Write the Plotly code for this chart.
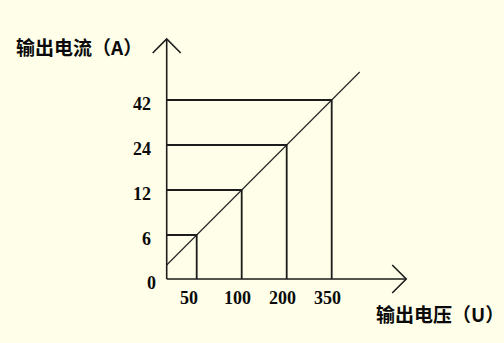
import plotly.graph_objects as go

# Output voltage / output current pairs shown on the schematic
voltage = [50, 100, 200, 350]
current = [6, 12, 24, 42]
x_title = "输出电压（U）"
y_title = "输出电流（A）"
origin_label = "0"

# Schematic layout (pixels): origin, first slot offset and slot spacing
W, H = 504, 343
OX, OY = 166.7, 279
X0, DX = 30, 45
Y0, DY = 44, 45
X_END, Y_END = 239.5, 240
ARROW = 14

INK = "#1c1c1c"
BG = "#fefee9"
NUM_FONT = dict(family="Liberation Serif, Times New Roman, serif", size=18, color="#0a0a0a", weight="bold")
CJK_FONT = dict(family="Noto Sans CJK SC, sans-serif", size=19, color="#0a0a0a", weight="bold")

xs = [X0 + DX * i for i in range(len(voltage))]
ys = [Y0 + DY * i for i in range(len(current))]

fig = go.Figure()

# Axes with open arrow heads
fig.add_trace(go.Scatter(
    x=[0, 0, None, -ARROW, 0, ARROW],
    y=[0, Y_END, None, Y_END - ARROW, Y_END, Y_END - ARROW],
    mode="lines", line=dict(color=INK, width=1.6), hoverinfo="skip"))
fig.add_trace(go.Scatter(
    x=[0, X_END, None, X_END - ARROW, X_END, X_END - ARROW],
    y=[0, 0, None, ARROW, 0, -ARROW],
    mode="lines", line=dict(color=INK, width=1.6), hoverinfo="skip"))

# Projection lines from each operating point to both axes
bx, by = [], []
for x, y in zip(xs, ys):
    bx += [0, x, x, None]
    by += [y, y, 0, None]
fig.add_trace(go.Scatter(x=bx, y=by, mode="lines",
                         line=dict(color=INK, width=1.8), hoverinfo="skip"))

# Characteristic line through the operating points, extended both ways
slope = (ys[-1] - ys[0]) / (xs[-1] - xs[0])
icpt = ys[0] - slope * xs[0]
x_hi = xs[-1] + 28
fig.add_trace(go.Scatter(x=[0] + xs + [x_hi],
                         y=[icpt] + ys + [icpt + slope * x_hi],
                         mode="lines", line=dict(color=INK, width=1.1),
                         hoverinfo="skip"))

ann = []
for v, x in zip(voltage, xs):
    ann.append(dict(x=x - (8 if v == voltage[0] else 4), y=-19, text=str(v),
                    showarrow=False, xanchor="center", yanchor="middle", font=NUM_FONT))
for c, y in zip(current, ys):
    ann.append(dict(x=-13.7, y=y - 4, text=str(c), showarrow=False,
                    xanchor="right", yanchor="middle", font=NUM_FONT))
ann.append(dict(x=-8.7, y=-3.5, text=origin_label, showarrow=False,
                xanchor="right", yanchor="middle", font=NUM_FONT))
ann.append(dict(x=-152.7, y=233, text=y_title, showarrow=False,
                xanchor="left", yanchor="middle", font=CJK_FONT))
ann.append(dict(x=207.3, y=-34, text=x_title, showarrow=False,
                xanchor="left", yanchor="middle", font=CJK_FONT))

fig.update_layout(
    width=W, height=H, margin=dict(l=0, r=0, t=0, b=0),
    paper_bgcolor=BG, plot_bgcolor=BG, showlegend=False,
    annotations=ann,
    xaxis=dict(range=[-OX, W - OX], visible=False, fixedrange=True),
    yaxis=dict(range=[OY - H, OY], visible=False, fixedrange=True),
)

fig.write_html("out.html")
